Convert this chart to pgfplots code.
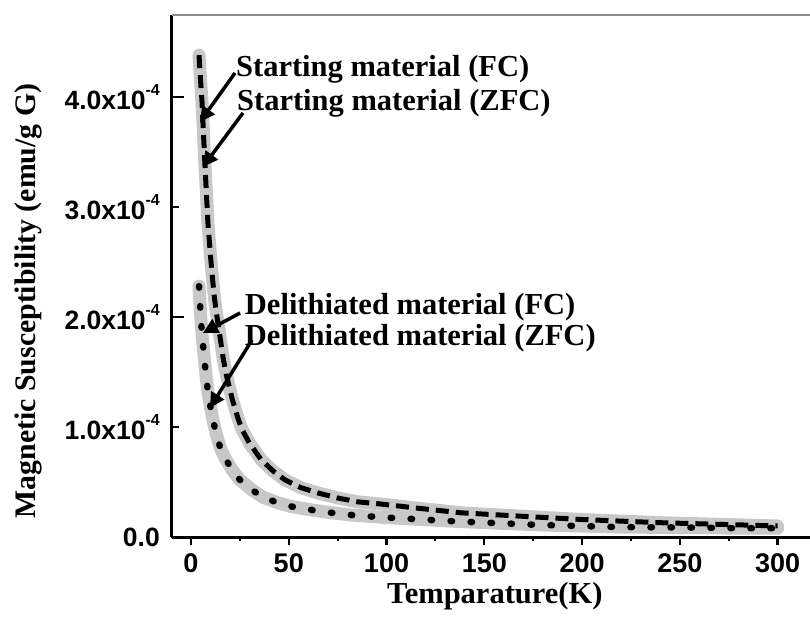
\documentclass[border=0pt]{standalone}
\usepackage{fontspec}
\setmainfont{Liberation Serif}
\newfontfamily\arialf{Liberation Sans}
\usepackage{pgfplots}
\pgfplotsset{compat=1.18}
\usepackage{pgfplotstable}
\usetikzlibrary{arrows.meta}
\definecolor{bandgray}{RGB}{200,200,200}

\pgfplotstableread{
T FC ZFC
4.1 4.38e-4 4.38e-4
5.0 4.12e-4 4.12e-4
5.6 3.97e-4 3.97e-4
6.5 3.62e-4 3.62e-4
7.2 3.36e-4 3.36e-4
8.0 3.08e-4 3.08e-4
8.7 2.84e-4 2.84e-4
10 2.55e-4 2.55e-4
11 2.35e-4 2.35e-4
12 2.17e-4 2.17e-4
13.3 2.00e-4 2.00e-4
15 1.80e-4 1.80e-4
16.4 1.63e-4 1.63e-4
18 1.48e-4 1.48e-4
21 1.26e-4 1.26e-4
24 1.08e-4 1.08e-4
26 0.98e-4 0.98e-4
30 0.85e-4 0.85e-4
36 0.70e-4 0.70e-4
42 0.60e-4 0.60e-4
48 0.52e-4 0.52e-4
56 0.45e-4 0.45e-4
65 0.40e-4 0.40e-4
75 0.355e-4 0.355e-4
85 0.32e-4 0.32e-4
97 0.30e-4 0.30e-4
117 0.26e-4 0.26e-4
138 0.22e-4 0.22e-4
158 0.20e-4 0.20e-4
178 0.18e-4 0.18e-4
199 0.16e-4 0.16e-4
219 0.145e-4 0.145e-4
240 0.13e-4 0.13e-4
260 0.12e-4 0.12e-4
281 0.11e-4 0.11e-4
300 0.10e-4 0.10e-4
}\starting

\pgfplotstableread{
T FC ZFC
4.1 2.28e-4 2.28e-4
5.0 2.00e-4 2.00e-4
5.6 1.85e-4 1.85e-4
6.4 1.70e-4 1.70e-4
7.2 1.55e-4 1.55e-4
8.0 1.42e-4 1.42e-4
8.7 1.31e-4 1.31e-4
10 1.18e-4 1.18e-4
11.3 1.06e-4 1.06e-4
13 0.93e-4 0.93e-4
14.8 0.82e-4 0.82e-4
17 0.73e-4 0.73e-4
21 0.61e-4 0.61e-4
25 0.52e-4 0.52e-4
31 0.43e-4 0.43e-4
37 0.36e-4 0.36e-4
44.5 0.31e-4 0.31e-4
52 0.275e-4 0.275e-4
62 0.245e-4 0.245e-4
72 0.22e-4 0.22e-4
82 0.20e-4 0.20e-4
97 0.18e-4 0.18e-4
117 0.16e-4 0.16e-4
138 0.14e-4 0.14e-4
158 0.125e-4 0.125e-4
178 0.11e-4 0.11e-4
199 0.10e-4 0.10e-4
219 0.09e-4 0.09e-4
240 0.088e-4 0.088e-4
260 0.085e-4 0.085e-4
281 0.08e-4 0.08e-4
300 0.08e-4 0.08e-4
}\delith

\newcommand{\supr}[1]{\raisebox{0.55em}{\fontsize{16}{16}\selectfont #1}}

\begin{document}
\begin{tikzpicture}
\begin{axis}[
  at={(0,0)}, anchor=south west,
  scale only axis, width=638pt, height=522pt,
  xmin=-9.72, xmax=316.6, ymin=0, ymax=4.745e-4,
  scaled y ticks=false, scaled x ticks=false,
  axis x line*=bottom, axis y line*=left,
  axis line style={line width=3pt, black},
  tick align=outside,
  major tick length=8pt, minor tick length=4pt,
  every tick/.style={black, line width=2.2pt},
  xtick={0,50,100,150,200,250,300},
  xticklabels={0,50,100,150,200,250,300},
  minor xtick={25,75,125,175,225,275},
  ytick={0,1e-4,2e-4,3e-4,4e-4},
  yticklabels={0.0,{1.0x10\supr{-4}},{2.0x10\supr{-4}},{3.0x10\supr{-4}},{4.0x10\supr{-4}}},
  ytick style={xshift=7pt},
  extra y ticks={2e-4,4e-4},
  extra y tick labels={,},
  extra y tick style={major tick length=12pt, every y tick/.style={xshift=12pt}},
  xticklabel style={font=\arialf\bfseries\fontsize{27}{27}\selectfont, inner sep=0pt, yshift=-8pt},
  yticklabel style={font=\arialf\bfseries\fontsize{26.5}{26.5}\selectfont, inner sep=0pt, xshift=-4pt},
  xlabel={Temparature(K)},
  ylabel={Magnetic Susceptibility (emu/g G)},
  xlabel style={font=\bfseries\fontsize{30.5}{30.5}\selectfont, at={(axis description cs:0.506,-0.113)}, anchor=center},
  ylabel style={font=\bfseries\fontsize{29.8}{29.8}\selectfont, at={(axis description cs:-0.2257,0.452)}, anchor=center},
  clip=false,
]
\draw[black!45, line width=1.5pt] (rel axis cs:0,1) -- (rel axis cs:1,1);
\addplot[bandgray, line width=13pt, line cap=round, line join=round] table[x=T,y=FC] {\starting};
\addplot[bandgray, line width=13pt, line cap=round, line join=round] table[x=T,y=FC] {\delith};
\addplot[black, line width=6.5pt, line cap=round, dash pattern=on 1.5pt off 18.5pt] table[x=T,y=ZFC] {\delith};
\addplot[black, line width=5pt, dash pattern=on 13pt off 7pt] table[x=T,y=ZFC] {\starting};

\node[anchor=base west, inner sep=0pt, font=\bfseries\fontsize{30.5}{30.5}\selectfont] at (axis cs:23,4.19e-4) {Starting material (FC)};
\node[anchor=base west, inner sep=0pt, font=\bfseries\fontsize{30.5}{30.5}\selectfont] at (axis cs:23.5,3.88e-4) {Starting material (ZFC)};
\node[anchor=base west, inner sep=0pt, font=\bfseries\fontsize{30.5}{30.5}\selectfont] at (axis cs:27.5,2.027e-4) {Delithiated material (FC)};
\node[anchor=base west, inner sep=0pt, font=\bfseries\fontsize{30.5}{30.5}\selectfont] at (axis cs:27.5,1.745e-4) {Delithiated material (ZFC)};

\draw[line width=3.5pt, -{Triangle[length=15pt,width=15pt]}] (axis cs:22.5,4.218e-4) -- (axis cs:4.6,3.773e-4);
\draw[line width=3.5pt, -{Triangle[length=15pt,width=15pt]}] (axis cs:26.6,3.855e-4) -- (axis cs:6.1,3.364e-4);
\draw[line width=3.5pt, -{Triangle[length=15pt,width=15pt]}] (axis cs:25.1,2.036e-4) -- (axis cs:6.1,1.855e-4);
\draw[line width=3.5pt, -{Triangle[length=15pt,width=15pt]}] (axis cs:31.2,1.791e-4) -- (axis cs:9.7,1.173e-4);
\end{axis}
\pgfresetboundingbox
\path[use as bounding box] (-172pt,-89pt) rectangle (638pt,537pt);
\end{tikzpicture}
\end{document}
